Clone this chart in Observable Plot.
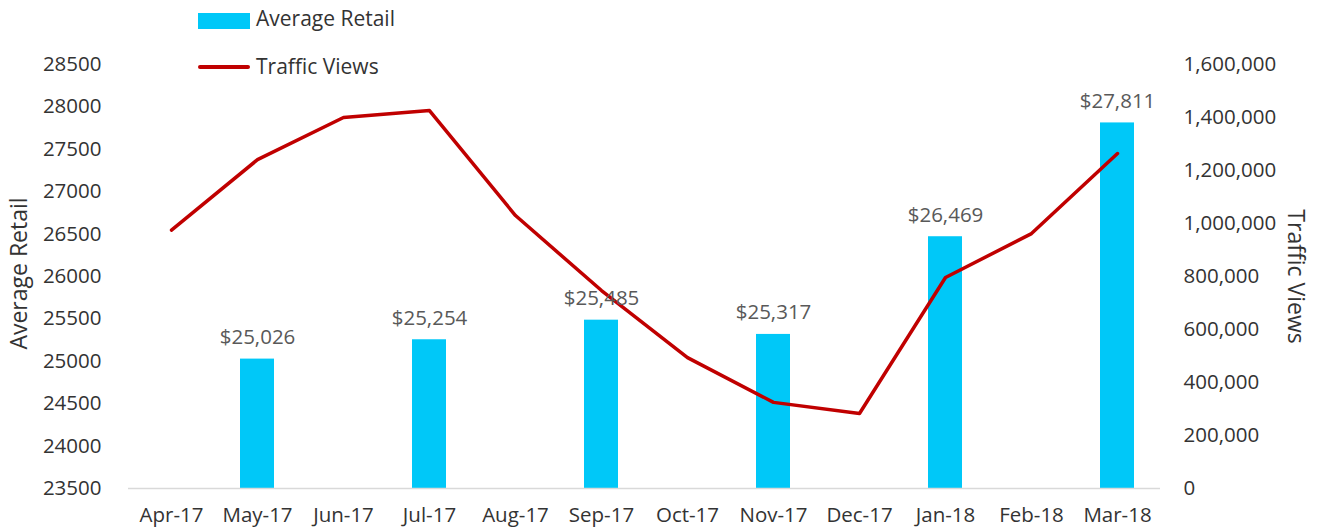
<!DOCTYPE html>
<html>
<head>
<meta charset="utf-8">
<script src="https://cdn.jsdelivr.net/npm/d3@7"></script>
<script src="https://cdn.jsdelivr.net/npm/@observablehq/plot@0.6"></script>
<style>
  body { margin: 0; background: #fff; }
  #wrap { position: relative; width: 1323px; height: 532px; font-family: "Open Sans", sans-serif; }
  .leg { position: absolute; font-size: 21px; color: #333; line-height: 1; }
  .sw { position: absolute; }
</style>
</head>
<body>
<div id="wrap">
  <div class="sw" style="left:198px;top:13px;width:52px;height:16px;background:#00c8f8"></div>
  <div class="leg" style="left:256px;top:8px">Average Retail</div>
  <div class="sw" style="left:198px;top:65px;width:52px;height:4px;background:#c00000;border-radius:2px"></div>
  <div class="leg" style="left:256px;top:56px">Traffic Views</div>
</div>
<script>
const months = ["Apr-17","May-17","Jun-17","Jul-17","Aug-17","Sep-17","Oct-17","Nov-17","Dec-17","Jan-18","Feb-18","Mar-18"];
const averageRetail = [null, 25026, null, 25254, null, 25485, null, 25317, null, 26469, null, 27811];
const trafficViews = [975000, 1241000, 1400000, 1426000, 1030000, 747000, 494000, 325000, 283000, 796000, 962000, 1264000];
const leftTicks = [23500, 24000, 24500, 25000, 25500, 26000, 26500, 27000, 27500, 28000, 28500];
const rightTicks = [0, 200000, 400000, 600000, 800000, 1000000, 1200000, 1400000, 1600000];

const leftMin = 23500, leftMax = 28500, rightMax = 1600000;
const toLeft = v => leftMin + v / rightMax * (leftMax - leftMin);
const fromLeft = y => (y - leftMin) / (leftMax - leftMin) * rightMax;

const bars = months.map((m, i) => ({month: m, value: averageRetail[i]})).filter(d => d.value != null);
const line = months.map((m, i) => ({month: m, value: toLeft(trafficViews[i])}));
const fmt = d3.format(",");

const chart = Plot.plot({
  width: 1323,
  height: 532,
  marginLeft: 128,
  marginRight: 163,
  marginTop: 64,
  marginBottom: 44,
  style: {fontFamily: "Open Sans, sans-serif", fontSize: "20.5px", color: "#333", background: "transparent"},
  x: {type: "band", domain: months, paddingInner: 0.6, paddingOuter: 0.3},
  y: {domain: [leftMin, leftMax]},
  marks: [
    Plot.axisX({tickSize: 0, tickPadding: 19, label: null, fontSize: 20.5}),
    Plot.axisY({ticks: leftTicks, tickFormat: d => String(d), tickSize: 0, tickPadding: 27, anchor: "left",
      label: null, fontSize: 20.5}),
    Plot.axisY({ticks: rightTicks.map(toLeft), tickFormat: d => fmt(Math.round(fromLeft(d) / 1000) * 1000),
      tickSize: 0, tickPadding: 23, anchor: "right", textAnchor: "start", label: null, fontSize: 20.5}),
    Plot.text(["Average Retail"], {frameAnchor: "left", dx: -109, dy: -3, rotate: -90, textAnchor: "middle", fontSize: 23, fill: "#333"}),
    Plot.text(["Traffic Views"], {frameAnchor: "right", dx: 135, rotate: 90, textAnchor: "middle", fontSize: 23, fill: "#333"}),
    Plot.barY(bars, {x: "month", y1: leftMin, y2: "value", fill: "#00c8f8"}),
    Plot.ruleY([leftMin], {stroke: "#d9d9d9", strokeWidth: 1.5}),
    Plot.line(line, {x: "month", y: "value", stroke: "#c00000", strokeWidth: 3.5, strokeLinejoin: "round"}),
    Plot.text(bars, {x: "month", y: "value", text: d => "$" + fmt(d.value), lineAnchor: "bottom", dy: -15,
      fill: "#595959", fontSize: 20.5})
  ]
});
document.getElementById("wrap").prepend(chart);
chart.style.position = "absolute";
chart.style.left = "0";
chart.style.top = "0";
</script>
</body>
</html>
